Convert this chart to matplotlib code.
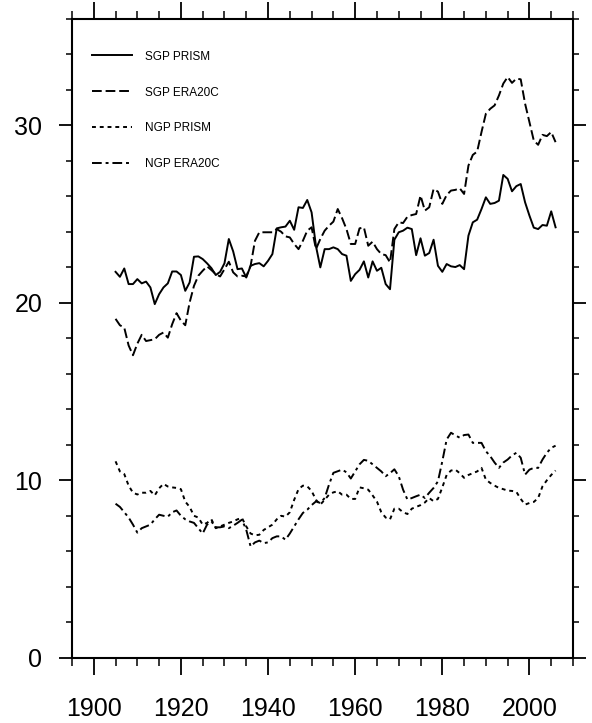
import numpy as np
import matplotlib
matplotlib.use("Agg")
import matplotlib.pyplot as plt

# --- data ---
years = np.arange(1905, 2007)

sgp_prism = [
    21.75, 21.47, 21.94, 21.06, 21.06, 21.34, 21.10, 21.20, 20.87, 19.93,
    20.49, 20.87, 21.10, 21.77, 21.77, 21.57, 20.68, 21.15, 22.60, 22.62,
    22.47, 22.23, 21.96, 21.57, 21.75, 22.23, 23.60, 22.90, 21.90, 21.94,
    21.43, 22.09, 22.19, 22.24, 22.06, 22.37, 22.75, 24.20, 24.26, 24.30,
    24.63, 24.12, 25.39, 25.35, 25.80, 25.10, 23.20, 22.00, 23.03, 23.03,
    23.13, 23.03, 22.75, 22.66, 21.24, 21.62, 21.86, 22.34, 21.43, 22.34,
    21.81, 21.98, 21.06, 20.77, 23.56, 23.98, 24.07, 24.24, 24.16, 22.69,
    23.64, 22.66, 22.81, 23.56, 22.09, 21.75, 22.19, 22.06, 22.02, 22.13,
    21.90, 23.79, 24.54, 24.69, 25.29, 25.95, 25.58, 25.63, 25.76, 27.21,
    26.99, 26.29, 26.58, 26.70, 25.67, 24.92, 24.24, 24.16, 24.39, 24.35,
    25.16, 24.26,
]

sgp_era20c = [
    19.10, 18.74, 18.60, 17.60, 17.05, 17.70, 18.20, 17.85, 17.90, 17.95,
    18.20, 18.33, 18.04, 18.80, 19.42, 19.00, 18.74, 20.02, 20.96, 21.53,
    21.81, 22.06, 21.85, 21.62, 21.49, 21.90, 22.32, 21.72, 21.49, 21.53,
    21.49, 22.09, 23.50, 23.98, 23.98, 23.98, 23.98, 24.16, 24.01, 23.75,
    23.69, 23.32, 23.03, 23.50, 24.07, 24.26, 23.03, 23.60, 24.07, 24.35,
    24.58, 25.29, 24.77, 24.16, 23.32, 23.32, 24.20, 24.26, 23.22, 23.45,
    23.03, 22.75, 22.69, 22.28, 24.16, 24.54, 24.50, 24.86, 24.95, 25.01,
    26.05, 25.20, 25.39, 26.42, 26.27, 25.58, 26.08, 26.33, 26.37, 26.46,
    26.14, 27.74, 28.34, 28.53, 29.63, 30.66, 30.94, 31.13, 31.69, 32.36,
    32.73, 32.40, 32.64, 32.60, 31.23, 30.19, 29.15, 28.91, 29.47, 29.40,
    29.63, 29.06,
]

ngp_prism = [
    11.07, 10.50, 10.35, 9.70, 9.30, 9.20, 9.30, 9.30, 9.40, 9.15,
    9.55, 9.80, 9.65, 9.60, 9.57, 9.50, 8.80, 8.50, 8.00, 7.90,
    7.50, 7.60, 7.80, 7.30, 7.40, 7.50, 7.60, 7.68, 7.80, 7.88,
    7.40, 7.00, 6.90, 6.93, 7.20, 7.35, 7.50, 7.80, 8.00, 7.95,
    8.20, 8.90, 9.50, 9.70, 9.66, 9.40, 8.90, 8.63, 8.90, 9.19,
    9.32, 9.38, 9.19, 9.19, 8.95, 8.95, 9.60, 9.55, 9.47, 9.15,
    8.80, 8.20, 7.90, 7.80, 8.40, 8.40, 8.20, 8.10, 8.40, 8.50,
    8.60, 8.75, 9.00, 8.82, 8.95, 9.60, 10.30, 10.55, 10.60, 10.40,
    10.14, 10.30, 10.40, 10.50, 10.70, 10.04, 9.85, 9.70, 9.57, 9.50,
    9.42, 9.40, 9.35, 8.95, 8.63, 8.72, 8.78, 9.00, 9.66, 10.00,
    10.30, 10.55,
]

ngp_era20c = [
    8.68, 8.50, 8.20, 7.90, 7.50, 7.05, 7.30, 7.40, 7.50, 7.80,
    8.06, 8.00, 7.95, 8.20, 8.30, 8.00, 7.80, 7.68, 7.60, 7.30,
    7.00, 7.50, 7.68, 7.35, 7.35, 7.40, 7.30, 7.44, 7.60, 7.78,
    7.21, 6.27, 6.50, 6.60, 6.46, 6.50, 6.74, 6.84, 6.84, 6.65,
    7.00, 7.40, 7.80, 8.16, 8.34, 8.60, 8.81, 8.72, 9.00, 9.76,
    10.42, 10.51, 10.60, 10.45, 10.10, 10.50, 10.90, 11.15, 11.10, 10.90,
    10.70, 10.50, 10.23, 10.40, 10.62, 10.23, 9.47, 8.91, 9.00, 9.10,
    9.19, 9.00, 9.30, 9.57, 9.94, 11.07, 12.30, 12.68, 12.53, 12.40,
    12.55, 12.58, 12.11, 12.11, 12.11, 11.64, 11.36, 11.00, 10.70, 11.00,
    11.17, 11.40, 11.55, 11.27, 10.32, 10.60, 10.70, 10.70, 11.17, 11.55,
    11.83, 11.95,
]

labels = ["SGP PRISM", "SGP ERA20C", "NGP PRISM", "NGP ERA20C"]
xticks = [1900, 1920, 1940, 1960, 1980, 2000]
yticks = [0, 10, 20, 30]

# --- style ---
plt.rcParams["font.family"] = ["Liberation Sans", "DejaVu Sans"]

styles = [
    "-",
    (0, (5, 2)),
    (0, (2, 2)),
    (0, (5, 2, 1.5, 2)),
]

fig = plt.figure(figsize=(5.92, 7.23), dpi=100)
ax = fig.add_axes([0.1216, 0.0903, 0.8463, 0.8834])

series = [sgp_prism, sgp_era20c, ngp_prism, ngp_era20c]
for vals, ls, lab in zip(series, styles, labels):
    ax.plot(years, vals, color="black", lw=1.4, linestyle=ls, label=lab)

ax.set_xlim(1895, 2010)
ax.set_ylim(0, 36)
ax.set_xticks(xticks)
ax.set_xticks(np.arange(1895, 2011, 5), minor=True)
ax.set_yticks(yticks)
ax.set_yticks(np.arange(0, 37, 2), minor=True)
ax.tick_params(axis="both", which="both", direction="out", color="black",
               top=True, right=True, labeltop=False, labelright=False)
ax.tick_params(axis="x", which="major", length=12.5, width=1.3, pad=16, labelsize=18)
ax.tick_params(axis="x", which="minor", length=6, width=1.1)
ax.tick_params(axis="y", which="major", length=9.5, width=1.3, pad=12, labelsize=18)
ax.tick_params(axis="y", which="minor", length=4, width=1.1)
for sp in ax.spines.values():
    sp.set_linewidth(1.5)

leg = ax.legend(loc="upper left", bbox_to_anchor=(0.03, 0.958), frameon=False,
                fontsize=8.5, handlelength=3.4, handletextpad=1.1,
                labelspacing=2.03, borderaxespad=0)

fig.savefig("out.png", dpi=100)
plt.close(fig)
